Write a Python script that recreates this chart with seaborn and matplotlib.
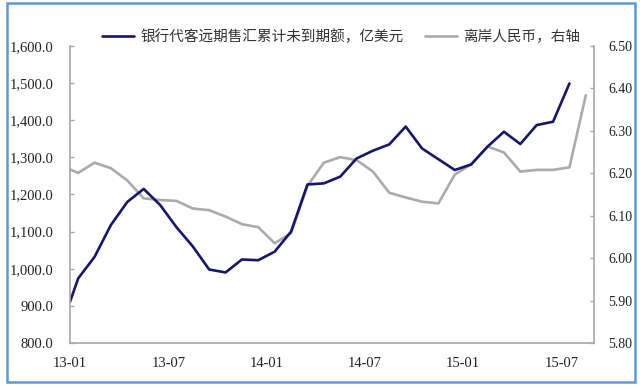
import pandas as pd
import matplotlib.pyplot as plt
import matplotlib.patches as mpatches
import seaborn as sns

# month offsets from 13-01 (points sit mid-month, first one on the axis start)
months_fx = [0, 0.5, 1.5, 2.5, 3.5, 4.5, 5.5, 6.5, 7.5, 8.5, 9.5, 10.5, 11.5,
             12.5, 13.5, 14.5, 15.5, 16.5, 17.5, 18.5, 19.5, 20.5, 21.5, 22.5,
             23.5, 24.5, 25.5, 26.5, 27.5, 28.5, 29.5, 30.5]
fx_sales = [911, 974, 1032, 1118, 1180, 1215, 1172, 1112, 1060, 998, 990, 1025,
            1023, 1046, 1100, 1227, 1230, 1248, 1297, 1318, 1335, 1383, 1324,
            1295, 1266, 1281, 1329, 1369, 1336, 1387, 1396, 1499]

months_cnh = months_fx + [31.5]
cnh_rate = [6.209, 6.201, 6.225, 6.212, 6.183, 6.141, 6.137, 6.135, 6.117, 6.113,
            6.098, 6.080, 6.073, 6.035, 6.059, 6.170, 6.225, 6.238, 6.231, 6.204,
            6.154, 6.143, 6.133, 6.129, 6.197, 6.221, 6.263, 6.249, 6.204, 6.208,
            6.208, 6.214, 6.384]

tick_pos = [0, 6, 12, 18, 24, 30]
tick_labels = ["13-01", "13-07", "14-01", "14-07", "15-01", "15-07"]

label_fx = "银行代客远期售汇累计未到期额，亿美元"
label_cnh = "离岸人民币，右轴"

sns.set_theme(style="white")
plt.rcParams["font.family"] = ["Liberation Serif", "DejaVu Serif"]

df_fx = pd.DataFrame({"m": months_fx, "v": fx_sales})
df_cnh = pd.DataFrame({"m": months_cnh, "v": cnh_rate})

fig = plt.figure(figsize=(6.4, 3.91), dpi=100)
ax = fig.add_axes([70 / 640, 1 - 343 / 391, 524 / 640, 297 / 391])
ax2 = ax.twinx()

navy = "#16166a"
grey = "#ababab"
spine_c = "#a6a6a6"

sns.lineplot(data=df_cnh, x="m", y="v", ax=ax2, color=grey, linewidth=1.9, label=label_cnh, legend=False)
sns.lineplot(data=df_fx, x="m", y="v", ax=ax, color=navy, linewidth=1.9, label=label_fx, legend=False)
ax.set_zorder(ax2.get_zorder() + 1)
ax.patch.set_visible(False)

ax.set_xlim(0, 32)
ax.set_ylim(800, 1600)
ax2.set_ylim(5.80, 6.50)
ax.set_yticks(range(800, 1601, 100))
ax.set_yticklabels([f"{v:,.1f}" for v in range(800, 1601, 100)])
ax2.set_yticks([5.8 + 0.1 * i for i in range(8)])
ax2.set_yticklabels([f"{5.8 + 0.1 * i:.2f}" for i in range(8)])
ax.set_xticks(tick_pos)
ax.set_xticklabels(tick_labels)
ax.set_xlabel("")
ax.set_ylabel("")
ax2.set_ylabel("")

for a in (ax, ax2):
    a.grid(False)
    for s in a.spines.values():
        s.set_color(spine_c)
        s.set_linewidth(1.2)
    a.spines["top"].set_visible(False)
ax.spines["right"].set_visible(False)
ax2.spines["left"].set_visible(False)
ax2.spines["bottom"].set_visible(False)

ax.tick_params(axis="y", direction="in", length=3, width=1, color=spine_c, pad=12, labelsize=10.5, labelcolor="#222222")
ax.tick_params(axis="x", direction="in", length=3, width=1, color=spine_c, pad=10, labelsize=10.5, labelcolor="#222222")
ax2.tick_params(axis="y", direction="in", length=3, width=1, color=spine_c, pad=10, labelsize=10, labelcolor="#222222")

h1, l1 = ax.get_legend_handles_labels()
h2, l2 = ax2.get_legend_handles_labels()
fig.legend(h1 + h2, l1 + l2, loc="center", bbox_to_anchor=(0.533, 0.905), ncol=2,
           frameon=False, handlelength=2.2, handletextpad=0.4, columnspacing=1.5,
           prop={"family": ["Noto Sans CJK SC", "DejaVu Sans"], "size": 10.5},
           labelcolor="#333333")

fig.patches.append(mpatches.Rectangle((7 / 640, 1 - 382 / 391), 628 / 640, 379 / 391,
                                      transform=fig.transFigure, fill=False,
                                      edgecolor="#5b9bd5", linewidth=1.8))

fig.savefig("out.png", dpi=100)
plt.close(fig)
